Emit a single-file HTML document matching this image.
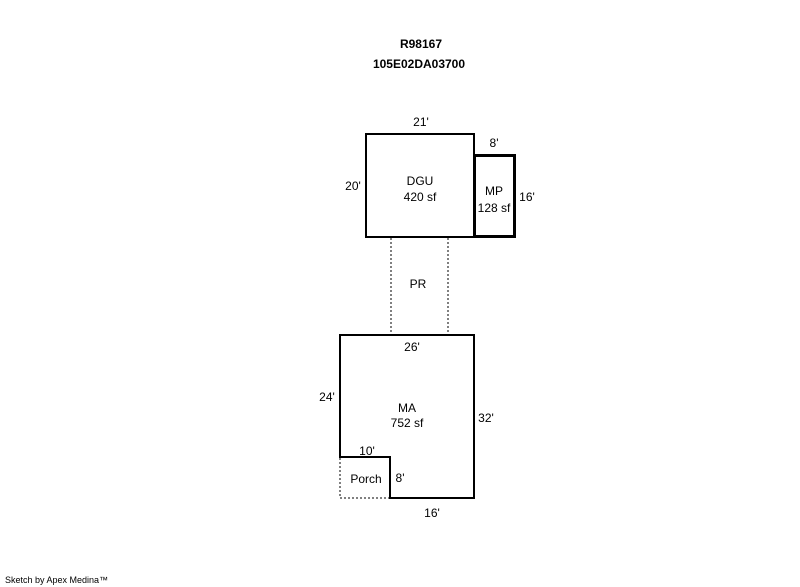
<!DOCTYPE html>
<html><head><style>
body{margin:0;background:#fff;width:800px;height:587px;overflow:hidden}
svg{display:block}
text{font-family:"Liberation Sans",Arial,sans-serif;font-size:12px;fill:#000}
</style></head><body>
<svg width="800" height="587" xmlns="http://www.w3.org/2000/svg">
<text x="421" y="48" text-anchor="middle" font-weight="bold">R98167</text>
<text x="419" y="68" text-anchor="middle" font-weight="bold">105E02DA03700</text>
<g stroke="#808080" stroke-width="2" stroke-dasharray="2,2" fill="none">
<line x1="391" y1="238" x2="391" y2="334"/>
<line x1="448" y1="238" x2="448" y2="334"/>
<polyline points="340,458 340,498 390,498"/>
</g>
<rect x="366" y="134" width="108" height="103" fill="none" stroke="#000" stroke-width="2"/>
<rect x="474.5" y="155.5" width="40" height="81" fill="none" stroke="#000" stroke-width="3"/>
<polygon points="340,335 474,335 474,498 390,498 390,457 340,457" fill="none" stroke="#000" stroke-width="2"/>
<text x="421" y="126" text-anchor="middle">21'</text>
<text x="494" y="147" text-anchor="middle">8'</text>
<text x="353" y="190" text-anchor="middle">20'</text>
<text x="420" y="185" text-anchor="middle">DGU</text>
<text x="420" y="201" text-anchor="middle">420 sf</text>
<text x="494" y="195" text-anchor="middle">MP</text>
<text x="494" y="212" text-anchor="middle">128 sf</text>
<text x="527" y="201" text-anchor="middle">16'</text>
<text x="418" y="288" text-anchor="middle">PR</text>
<text x="412" y="351" text-anchor="middle">26'</text>
<text x="327" y="401" text-anchor="middle">24'</text>
<text x="407" y="412" text-anchor="middle">MA</text>
<text x="407" y="427" text-anchor="middle">752 sf</text>
<text x="486" y="422" text-anchor="middle">32'</text>
<text x="367" y="455" text-anchor="middle">10'</text>
<text x="366" y="483" text-anchor="middle">Porch</text>
<text x="400" y="482" text-anchor="middle">8'</text>
<text x="432" y="517" text-anchor="middle">16'</text>
<text x="5" y="583" style="font-size:9px">Sketch by Apex Medina™</text>
</svg>
</body></html>
